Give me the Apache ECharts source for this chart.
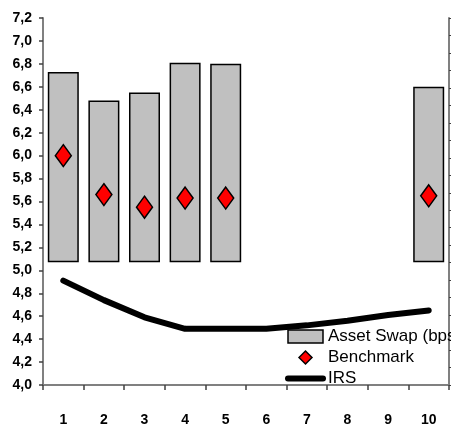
<!DOCTYPE html>
<html><head><meta charset="utf-8">
<script src="https://cdn.jsdelivr.net/npm/echarts@6/dist/echarts.min.js"></script>
<style>html,body{margin:0;padding:0;background:#fff;overflow:hidden}#c{width:451px;height:427px}</style>
</head><body><div id="c"></div>
<script>
const categories = ['1','2','3','4','5','6','7','8','9','10'];
const swapBase = [5.07,5.07,5.07,5.07,5.07,null,null,null,null,5.07];
const swapTop = [6.73,6.48,6.55,6.81,6.80,null,null,null,null,6.60];
const benchmark = [6.00,5.66,5.55,5.63,5.63,null,null,null,null,5.65];
const irs = [4.91,4.74,4.59,4.49,4.49,4.49,4.52,4.56,4.61,4.65];
const yMin = 4.0, yMax = 7.2, yStep = 0.2;

const swapHeight = swapTop.map((t, i) => (t == null || swapBase[i] == null) ? null : +(t - swapBase[i]).toFixed(4));

const chart = echarts.init(document.getElementById('c'), null, {renderer: 'canvas'});
const axisFont = {fontFamily: 'Liberation Sans', fontWeight: 'bold', fontSize: 14, color: '#000'};
chart.setOption({
  animation: false,
  backgroundColor: '#fff',
  grid: {left: 43, right: 2, top: 18, bottom: 34, containLabel: false},
  xAxis: {
    type: 'category', data: categories, boundaryGap: true,
    axisLine: {lineStyle: {color: '#808080', width: 2}},
    axisTick: {show: true, length: 5, inside: false, lineStyle: {color: '#404040', width: 1.5}},
    axisLabel: Object.assign({margin: 28}, axisFont),
    splitLine: {show: false}
  },
  yAxis: [{
    type: 'value', min: yMin, max: yMax, interval: yStep,
    axisLine: {show: true, lineStyle: {color: '#808080', width: 2}},
    axisTick: {show: true, length: 4, lineStyle: {color: '#404040', width: 1.5}},
    axisLabel: Object.assign({margin: 11, formatter: v => v.toFixed(1).replace('.', ',')}, axisFont),
    splitLine: {show: false}
  }, {
    type: 'value', min: 0, max: 21, interval: 1, position: 'right',
    axisLine: {show: true, lineStyle: {color: '#808080', width: 2}},
    axisTick: {show: true, length: 3, inside: false, lineStyle: {color: '#404040', width: 1}},
    axisLabel: {show: false},
    splitLine: {show: false}
  }],
  legend: {
    orient: 'vertical', left: 280, top: 321, padding: 5,
    itemWidth: 35, itemHeight: 13, itemGap: 0,
    textStyle: {fontFamily: 'Liberation Sans', fontSize: 17, color: '#000', lineHeight: 21},
    selectedMode: false,
    data: [
      {name: 'Asset Swap (bps)', icon: 'rect', itemStyle: {color: '#C0C0C0', borderColor: '#000', borderWidth: 1.5}},
      {name: 'Benchmark', icon: 'path://M0,6L6,0L12,6L6,12Z', itemStyle: {color: '#FF0000', borderColor: '#000', borderWidth: 1.5}},
      {name: 'IRS', icon: 'inherit', itemStyle: {color: 'rgba(0,0,0,0)', borderWidth: 0, opacity: 0},
       lineStyle: {width: 6, color: '#000', cap: 'round', opacity: 1}}
    ]
  },
  series: [
    {name: 'base', type: 'bar', stack: 'swap', data: swapBase, barWidth: 31,
     itemStyle: {color: 'rgba(0,0,0,0)'}, silent: true, emphasis: {disabled: true}},
    {name: 'Asset Swap (bps)', type: 'bar', stack: 'swap', data: swapHeight, barWidth: 31,
     itemStyle: {color: '#C0C0C0', borderColor: '#000', borderWidth: 1.5}},
    {name: 'Benchmark', type: 'scatter', data: benchmark, symbol: 'diamond', symbolSize: [16, 22], z: 5,
     itemStyle: {color: '#FF0000', borderColor: '#000', borderWidth: 1.5, opacity: 1}},
    {name: 'IRS', type: 'line', data: irs, symbol: 'none', smooth: false, z: 4,
     itemStyle: {color: '#000'},
     lineStyle: {color: '#000', width: 6, cap: 'round', join: 'round'}}
  ]
});
</script></body></html>
